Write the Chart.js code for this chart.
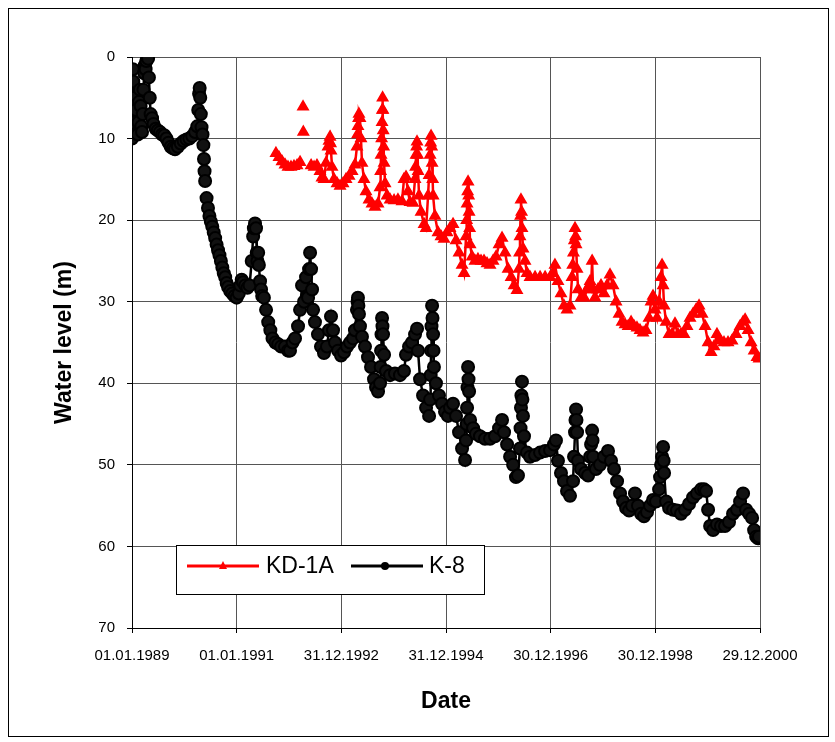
<!DOCTYPE html>
<html>
<head>
<meta charset="utf-8">
<title>Water level</title>
<script src="https://cdn.jsdelivr.net/npm/chart.js@4.4.1/dist/chart.umd.min.js"></script>
<style>
  body { margin: 0; background: #fff; }
  canvas { display: block; }
</style>
</head>
<body>
<canvas id="levelChart" width="835" height="742"></canvas>
<script>
// days counted from 01.01.1989, water level in m below surface
var k8Days = [0, 3, 6, 9, 12, 15, 18, 22, 26, 30, 35, 40, 45, 50, 55, 60, 65, 70, 75, 80, 85, 90, 95, 100, 106, 112, 118, 124, 130, 140, 150, 165, 180, 195, 210, 225, 240, 255, 270, 285, 300, 320, 340, 360, 380, 400, 420, 440, 455, 462, 468, 472, 476, 480, 485, 492, 498, 502, 506, 510, 515, 520, 530, 540, 550, 560, 570, 580, 590, 600, 610, 620, 630, 640, 650, 660, 670, 685, 700, 715, 730, 745, 755, 765, 775, 790, 805, 820, 835, 845, 850, 858, 865, 870, 875, 880, 885, 893, 900, 908, 920, 935, 950, 965, 980, 1000, 1020, 1040, 1067, 1088, 1102, 1120, 1137, 1158, 1172, 1186, 1200, 1214, 1228, 1235, 1242, 1249, 1256, 1263, 1276, 1297, 1318, 1339, 1360, 1374, 1388, 1402, 1416, 1437, 1458, 1479, 1500, 1521, 1542, 1555, 1569, 1573, 1576, 1579, 1583, 1590, 1604, 1625, 1646, 1667, 1688, 1702, 1716, 1730, 1734, 1737, 1740, 1744, 1747, 1751, 1758, 1772, 1800, 1834, 1869, 1897, 1911, 1932, 1953, 1974, 1988, 1995, 2009, 2030, 2051, 2072, 2079, 2083, 2086, 2089, 2093, 2096, 2100, 2103, 2106, 2120, 2141, 2162, 2183, 2204, 2218, 2239, 2260, 2281, 2302, 2323, 2330, 2334, 2337, 2340, 2344, 2347, 2351, 2358, 2379, 2399, 2427, 2462, 2497, 2532, 2560, 2581, 2595, 2616, 2637, 2658, 2678, 2692, 2706, 2710, 2713, 2716, 2720, 2723, 2727, 2734, 2755, 2776, 2811, 2846, 2881, 2916, 2943, 2957, 2971, 2992, 3013, 3034, 3055, 3076, 3083, 3090, 3093, 3097, 3100, 3104, 3111, 3132, 3160, 3181, 3195, 3202, 3209, 3212, 3216, 3236, 3264, 3292, 3320, 3341, 3362, 3383, 3404, 3425, 3446, 3467, 3488, 3508, 3529, 3550, 3571, 3592, 3613, 3634, 3655, 3676, 3683, 3690, 3697, 3704, 3708, 3711, 3725, 3746, 3774, 3801, 3829, 3857, 3885, 3913, 3941, 3969, 3990, 4004, 4018, 4032, 4053, 4080, 4108, 4136, 4164, 4192, 4220, 4241, 4262, 4283, 4304, 4325, 4339, 4353, 4366, 4373];
var k8Level = [10, 5, 1.5, 3, 6, 8, 9, 8.5, 6.5, 8.5, 9.3, 9.5, 8, 5.5, 4, 6, 8.5, 9.2, 7, 4, 2, 1, 1.5, 0.5, 0, 0.2, 2.5, 5, 7, 7.5, 8.2, 8.8, 9, 9.2, 9.5, 9.6, 10, 10.5, 11, 11.2, 11.3, 11, 10.6, 10.3, 10.1, 10, 9.7, 9.2, 8.5, 6.5, 4.5, 3.8, 5, 7, 8.6, 9.5, 10.8, 12.5, 14, 15.2, null, 17.3, 18.5, 19.5, 20.2, 20.8, 21.5, 22.2, 23, 23.7, 24.3, 25, 25.8, 26.5, 27, 27.7, 28.2, 28.7, 29, 29.3, 29.5, 29, 28, 27.3, 27.6, 28, 28.3, 28, 25, 22, 21, 20.4, 21, 24, 25, 24, 25.5, 27.5, 28.5, 29.3, 29.5, 31, 32.5, 33.5, 34.5, 35, 35.2, 35.5, 35.5, 36, 36, 35, 34.5, 33, 31, 28, 30, 27, 29.5, 26, 24, 26, 28.5, 31, 32.5, 34, 35.5, 36.3, 35.5, 33.5, 31.8, 33.5, 35, 36, 36.6, 36.2, 35.5, 35, 34.5, 33.5, 31, 30, 29.5, 30.5, 31.5, 33, 34.3, 35.5, 36.8, 38, 39.5, 40.5, 41, 40, 38, 36, 34, 32, 33, 34, 36.5, 38.5, 39, 38.8, 39, 38.5, 36.5, 35.5, 35, 34, 33.3, 36, 39.5, 41.5, 43, 44, 42, 39, 36, 33, 30.5, 32, 34, 36, 38, 40, 41.5, 42.5, 43.5, 44, 43, 42.5, 44, 46, 48, 49.4, 47, 45, 43, 40.5, 38, 39.5, 41, 44.5, 45.5, 46.2, 46.5, 46.8, 46.8, 46.5, 45.5, 44.5, 46, 47.5, 49, 50, 51.5, 51.3, 48, 45.5, 43, 41.5, 39.8, 42, 44, 46.5, 48.5, 49, 48.8, 48.5, 48.3, 48.2, 47.5, 47, 49.5, 51, 52, 53.2, 53.8, 52, 49, 46, 44.5, 43.2, 44.5, 46, 49.5, 50.5, 51, 51.3, 49, 47.5, 45.8, 47, 49, 50.5, 50, 49, 48.3, 49.5, 50.5, 52, 53.5, 54.5, 55.3, 55.6, 55, 53.5, 55, 56, 56.3, 55.8, 55, 54.3, 54.5, 53, 51.5, 50, 49, 47.8, 49.5, 51, 54.5, 55.3, 55.5, 55.6, 56, 55.5, 54.8, 54, 53.5, 53, 53, 53.2, 55.5, 57.5, 58, 57.3, 57.5, 57.5, 57, 56, 55.5, 54.5, 53.5, 55.5, 56, 56.5, 58, 58.8, 59, 58.8];

var kd1aDays = [1004, 1025, 1046, 1067, 1088, 1109, 1130, 1151, 1172, 1182, 1193, 1194, 1195, 1200, 1249, 1270, 1290, 1311, 1325, 1339, 1353, 1367, 1374, 1381, 1385, 1388, 1395, 1409, 1430, 1451, 1472, 1493, 1514, 1535, 1555, 1569, 1573, 1576, 1580, 1583, 1590, 1597, 1604, 1618, 1632, 1653, 1674, 1695, 1716, 1730, 1734, 1737, 1741, 1744, 1746, 1748, 1750, 1752, 1755, 1758, 1765, 1779, 1800, 1828, 1855, 1883, 1897, 1911, 1925, 1939, 1960, 1974, 1978, 1981, 1985, 1988, 1992, 1995, 2002, 2016, 2037, 2051, 2065, 2072, 2079, 2083, 2086, 2090, 2093, 2097, 2100, 2113, 2134, 2155, 2176, 2197, 2218, 2239, 2260, 2281, 2302, 2316, 2330, 2334, 2337, 2341, 2344, 2348, 2351, 2355, 2358, 2372, 2392, 2413, 2434, 2455, 2476, 2497, 2518, 2539, 2560, 2581, 2602, 2623, 2644, 2665, 2685, 2699, 2703, 2706, 2710, 2713, 2717, 2720, 2727, 2741, 2755, 2776, 2811, 2846, 2881, 2916, 2936, 2950, 2971, 2992, 3013, 3034, 3055, 3069, 3074, 3079, 3085, 3090, 3094, 3097, 3104, 3111, 3132, 3153, 3174, 3188, 3195, 3202, 3209, 3216, 3229, 3250, 3271, 3292, 3313, 3334, 3355, 3376, 3397, 3418, 3439, 3460, 3481, 3501, 3522, 3543, 3564, 3585, 3606, 3620, 3634, 3648, 3662, 3676, 3690, 3697, 3704, 3711, 3725, 3746, 3767, 3787, 3808, 3829, 3850, 3871, 3892, 3913, 3934, 3955, 3976, 3997, 4018, 4039, 4059, 4080, 4101, 4129, 4157, 4185, 4213, 4241, 4262, 4276, 4297, 4318, 4339, 4359, 4373];
var kd1aLevel = [11.8, 12.3, 12.8, 13.2, 13.5, 13.5, 13.4, 13.3, 12.9, null, 6.1, null, 9.2, null, 13.3, 13.5, 13.3, 14, 14.8, 15, 13, 11, 10.3, 9.8, 10.6, 11.5, 13.5, 15, 15.5, 15.8, 15.5, 15, 14.6, 14, 13.2, 11, 9.5, 8.5, 7.5, 7, 7.5, 10, 13, 15, 16.5, 17.5, 18, 18.4, 18, 16, 14, 12, 10, 8, 6.5, 5, 6.5, 9, 11, 13, 15.5, 17, 17.5, 17.6, 17.5, 17.7, 15, 14.7, 16.5, 17.8, 17.9, 15, 13.5, 12, 11, 10.4, 12, 14, 17, 19, 20.5, 21, 17, 14.5, 12, 10.5, 9.7, 11, 13, 15, 17, 19.5, 21.5, 22, 22.3, 21.5, 21, 20.5, 22.5, 24, 25.5, 26.5, 22, 20, 18, 16.5, 15.3, 17, 19, 21, 23, 24.5, 25, 24.8, 25, 25, 25.3, 25.5, 25, 24.5, 23, 22.2, 24, 26, 27, 28, 28.6, 26, 24, 22, 19.5, 17.5, 19, 21, 23.5, 25, 26.5, 27, 27, 27, 27, 27, 26.5, 25.5, 27.5, 29, 30.5, 31, 30.5, 27, 25.5, 24, 22.5, 21, 22, 23, 26, 28.5, 29.5, 29.5, 28.5, 28, 27.5, 28, 25, 28.5, 29.5, 28.5, 28, 29, 28, 26.7, 28, 30, 31.5, 32.5, 32.8, 33, 32.5, 33, 33.2, 33.5, 33.8, 33.5, 32, 30, 29.3, 31, 32, 30, 27, 25.5, 28, 30.5, 32.5, 34, 34, 32.7, 34, 34, 34, 33, 32, 31.5, 31, 30.5, 31.5, 33, 35, 36.2, 35.5, 34, 34.8, 35, 35, 34.8, 34, 33, 32.5, 32.2, 33.5, 35, 36, 36.8, 37];

var startDate = Date.UTC(1989, 0, 1);
var xTickStep = 730;   // 01.01.1989, 01.01.1991, 31.12.1992 ...
var xMax = 4380;       // 29.12.2000

var fontName = '"Liberation Sans", Arial, sans-serif';

function toPoints(days, levels){
  var pts = [];
  for(var i = 0; i < days.length; i++){
    pts.push({x: days[i], y: levels[i]});
  }
  return pts;
}

function dayLabel(v){
  var d = new Date(startDate + v*86400000);
  var dd = String(d.getUTCDate()).padStart(2, '0');
  var mm = String(d.getUTCMonth() + 1).padStart(2, '0');
  return dd + '.' + mm + '.' + d.getUTCFullYear();
}

//white page with the thin outer frame
var framePlugin = {
  id: 'frame',
  beforeDraw: function(chart){
    var ctx = chart.ctx;
    ctx.save();
    ctx.fillStyle = '#fff';
    ctx.fillRect(0, 0, chart.width, chart.height);
    ctx.strokeStyle = '#000';
    ctx.lineWidth = 1;
    ctx.strokeRect(8.5, 8.5, 820, 728);
    ctx.restore();
  }
};

//legend box inside the plot, lower left
var legendPlugin = {
  id: 'boxLegend',
  afterDraw: function(chart){
    var ctx = chart.ctx, a = chart.chartArea;
    var x0 = a.left + 44, y0 = a.top + 488;
    var cy = y0 + 21;
    ctx.save();
    ctx.fillStyle = '#fff';
    ctx.fillRect(x0, y0, 308, 49);
    ctx.strokeStyle = '#000';
    ctx.lineWidth = 1;
    ctx.strokeRect(x0 + 0.5, y0 + 0.5, 308, 49);

    // KD-1A
    ctx.strokeStyle = '#ff0000';
    ctx.lineWidth = 3;
    ctx.beginPath(); ctx.moveTo(x0 + 11, cy); ctx.lineTo(x0 + 83, cy); ctx.stroke();
    ctx.fillStyle = '#ff0000';
    ctx.beginPath();
    ctx.moveTo(x0 + 47, cy - 5); ctx.lineTo(x0 + 51, cy + 3); ctx.lineTo(x0 + 43, cy + 3);
    ctx.closePath(); ctx.fill();

    // K-8
    ctx.strokeStyle = '#000';
    ctx.beginPath(); ctx.moveTo(x0 + 175, cy); ctx.lineTo(x0 + 247, cy); ctx.stroke();
    ctx.fillStyle = '#000';
    ctx.beginPath(); ctx.arc(x0 + 209, cy, 4, 0, Math.PI*2); ctx.fill();

    ctx.fillStyle = '#000';
    ctx.font = '23px ' + fontName;
    ctx.textBaseline = 'middle';
    ctx.fillText('KD-1A', x0 + 90, cy + 1);
    ctx.fillText('K-8', x0 + 253, cy + 1);
    ctx.restore();
  }
};

var ctx = document.getElementById('levelChart');
var levelChart = new Chart(ctx, {
  type: 'line',
  data: {
    datasets: [{
      label: 'KD-1A',
      data: toPoints(kd1aDays, kd1aLevel),
      borderColor: '#ff0000',
      backgroundColor: '#ff0000',
      borderWidth: 2.5,
      pointStyle: 'triangle',
      pointRadius: 6,
      pointBorderWidth: 1.5,
      pointBackgroundColor: '#ff0000',
      pointBorderColor: '#ff0000',
      spanGaps: false,
      tension: 0
    }, {
      label: 'K-8',
      data: toPoints(k8Days, k8Level),
      borderColor: '#000',
      backgroundColor: '#000',
      borderWidth: 2.5,
      pointStyle: 'circle',
      pointRadius: 6,
      pointBorderWidth: 2,
      pointBackgroundColor: '#111',
      pointBorderColor: '#000',
      spanGaps: false,
      tension: 0
    }]
  },
  options: {
    responsive: false,
    animation: false,
    devicePixelRatio: 1,
    layout: { padding: { left: 0, top: 57, right: 75, bottom: 0 } },
    plugins: {
      legend: { display: false },
      tooltip: { enabled: false }
    },
    scales: {
      x: {
        type: 'linear',
        min: 0,
        max: xMax,
        afterFit: function(scale){ scale.height = 114; },
        afterBuildTicks: function(scale){
          var t = [];
          for(var v = 0; v <= xMax; v += xTickStep) t.push({value: v});
          scale.ticks = t;
        },
        ticks: {
          callback: function(v){ return dayLabel(v); },
          color: '#000',
          font: { family: fontName, size: 15 },
          padding: 14,
          maxRotation: 0,
          autoSkip: false
        },
        grid: { color: '#555', lineWidth: 1, tickLength: 5, tickColor: '#000' },
        border: { color: '#000', width: 1 },
        title: {
          display: true,
          text: 'Date',
          color: '#000',
          font: { family: fontName, size: 23, weight: 'bold' },
          padding: { top: 0, bottom: 27 }
        }
      },
      y: {
        reverse: true,
        min: 0,
        max: 70,
        afterFit: function(scale){ scale.width = 132; },
        ticks: {
          stepSize: 10,
          color: '#000',
          font: { family: fontName, size: 15 },
          padding: 12
        },
        grid: { color: '#555', lineWidth: 1, tickLength: 5, tickColor: '#000' },
        border: { color: '#000', width: 1 },
        title: {
          display: true,
          text: 'Water level (m)',
          color: '#000',
          font: { family: fontName, size: 23, weight: 'bold' },
          padding: { top: 51, bottom: 0 }
        }
      }
    }
  },
  plugins: [framePlugin, legendPlugin]
});
</script>
</body>
</html>
